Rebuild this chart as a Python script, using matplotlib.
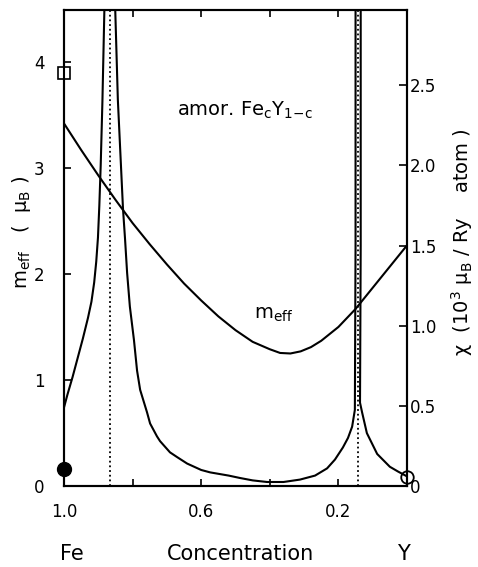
import matplotlib
matplotlib.use("Agg")
import matplotlib.pyplot as plt

# ---- data ----
conc_meff = [1.0, 0.95, 0.90, 0.85, 0.80, 0.75, 0.70, 0.65, 0.60, 0.55, 0.50,
             0.45, 0.40, 0.37, 0.34, 0.31, 0.28, 0.25, 0.20, 0.15, 0.10, 0.05, 0.0]
meff = [3.42, 3.17, 2.93, 2.70, 2.48, 2.28, 2.09, 1.91, 1.75, 1.60, 1.47,
        1.36, 1.29, 1.255, 1.25, 1.27, 1.31, 1.37, 1.50, 1.67, 1.87, 2.07, 2.27]

# susceptibility, Fe-side branch (left of first divergence)
conc_chi_fe = [1.0, 0.99, 0.975, 0.96, 0.945, 0.93, 0.92, 0.912, 0.906, 0.901,
               0.897, 0.893, 0.888, 0.882]
chi_fe = [0.49, 0.57, 0.68, 0.80, 0.92, 1.05, 1.15, 1.27, 1.40, 1.55,
          1.75, 2.00, 2.40, 3.0]

# middle branch (between the two divergences)
conc_chi_mid = [0.851, 0.843, 0.828, 0.822, 0.816, 0.808, 0.796, 0.787, 0.778,
                0.758, 0.749, 0.729, 0.720, 0.691, 0.67, 0.641, 0.60, 0.574,
                0.52, 0.487, 0.45, 0.408, 0.36, 0.312, 0.268, 0.233, 0.21,
                0.187, 0.172, 0.16, 0.152, 0.150, 0.150]
chi_mid = [3.0, 2.41, 1.73, 1.54, 1.33, 1.12, 0.91, 0.72, 0.60,
           0.46, 0.39, 0.31, 0.28, 0.21, 0.18, 0.14, 0.10, 0.085,
           0.065, 0.05, 0.035, 0.025, 0.025, 0.04, 0.065, 0.11, 0.165,
           0.24, 0.30, 0.37, 0.475, 1.5, 3.0]

# Y-side branch
conc_chi_y = [0.0, 0.026, 0.05, 0.087, 0.117, 0.131, 0.137, 0.135, 0.135]
chi_y = [0.06, 0.09, 0.12, 0.20, 0.33, 0.46, 0.52, 1.5, 3.0]

# critical concentrations (dotted lines)
conc_crit = [0.867, 0.143]

# single experimental points
sq_c, sq_m = 1.0, 3.90        # open square
fc_c, fc_m = 1.0, 0.16        # filled circle
oc_c, oc_m = 0.0, 0.085       # open circle

x_major = [1.0, 0.6, 0.2]
x_major_labels = ["1.0", "0.6", "0.2"]
x_minor = [0.8, 0.4, 0.0]
left_ticks = [0, 1, 2, 3, 4]
right_ticks = [0, 0.5, 1.0, 1.5, 2.0, 2.5]
right_labels = ["0", "0.5", "1.0", "1.5", "2.0", "2.5"]

# ---- figure ----
plt.rcParams['font.family'] = ['DejaVu Sans']
W, H = 478, 567
fig = plt.figure(figsize=(W/100, H/100), dpi=100)
ax = fig.add_axes([64/W, 1-486/H, (407-64)/W, (486-10)/H])
ax2 = ax.twinx()

lw = 1.5
ax.plot(conc_meff, meff, color='black', lw=lw, solid_joinstyle='round')
for cx, cy in ((conc_chi_fe, chi_fe), (conc_chi_mid, chi_mid), (conc_chi_y, chi_y)):
    ax2.plot(cx, cy, color='black', lw=lw, solid_joinstyle='round')
for c in conc_crit:
    ax.axvline(c, color='black', lw=1.3, linestyle=(0, (1, 1.6)))

ax.plot([sq_c], [sq_m], marker='s', ms=8, mfc='white', mec='black', mew=1.2,
        clip_on=False, zorder=5)
ax.plot([fc_c], [fc_m], marker='o', ms=10, mfc='black', mec='black',
        clip_on=False, zorder=5)
ax.plot([oc_c], [oc_m], marker='o', ms=9, mfc='none', mec='black', mew=1.3,
        clip_on=False, zorder=5)

ax.set_xlim(1.0, 0.0)
ax.set_ylim(0, 4.49)
ax2.set_ylim(0, 2.97)

ax.set_xticks(x_major)
ax.set_xticklabels(x_major_labels)
ax.set_xticks(x_minor, minor=True)
ax.set_yticks(left_ticks)
ax.set_yticklabels([str(t) for t in left_ticks])
ax2.set_yticks(right_ticks)
ax2.set_yticklabels(right_labels)

ax.tick_params(axis='x', which='both', direction='in', top=True, length=5,
               width=1.2, labelsize=12, pad=12)
ax.tick_params(axis='y', direction='in', length=5, width=1.2, labelsize=12,
               pad=14, right=False)
ax2.tick_params(axis='y', direction='in', length=6, width=1.2, labelsize=12,
                pad=2)
for a in (ax, ax2):
    for s in a.spines.values():
        s.set_linewidth(1.5)

ax.set_ylabel("m$_{\\rm eff}$   (  μ$_{\\rm B}$ )", fontsize=14)
ax.yaxis.set_label_coords((22-64)/343, (486-232)/476)
ax.yaxis.label.set_va('center')
ax2.set_ylabel("χ  (10$^3$ μ$_{\\rm B}$ / Ry    atom )", fontsize=14, rotation=90)
ax2.yaxis.set_label_coords((462-64)/343, (486-242)/476)
ax2.yaxis.label.set_va('center')

fig.text(245/W, 1-110/H, "amor. Fe$_{\\rm c}$Y$_{\\rm 1\\!-\\!c}$", fontsize=14,
         ha='center', va='center')
fig.text(274/W, 1-315/H, "m$_{\\rm eff}$", fontsize=14, ha='center', va='center')
fig.text(72/W, 1-554/H, "Fe", fontsize=15, ha='center', va='center')
fig.text(241/W, 1-554/H, "Concentration", fontsize=15, ha='center', va='center')
fig.text(403/W, 1-554/H, "Y", fontsize=15, ha='center', va='center')

fig.savefig("out.png", dpi=100)
